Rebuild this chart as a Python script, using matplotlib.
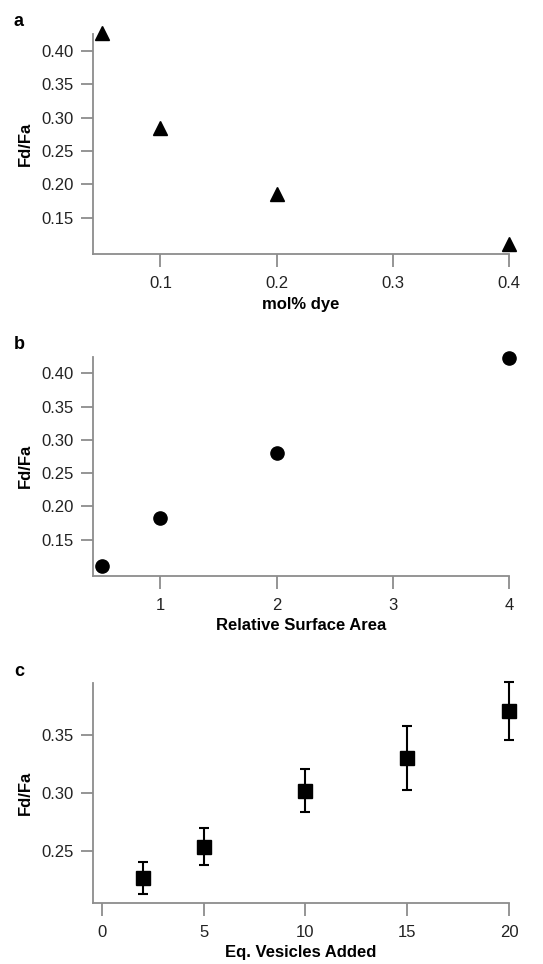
import matplotlib.pyplot as plt

plt.rcParams['font.family'] = ['Liberation Sans', 'DejaVu Sans']

# panel a
dye = [0.05, 0.1, 0.2, 0.4]
ratio_dye = [0.426, 0.284, 0.186, 0.111]

# panel b
area = [0.5, 1, 2, 4]
ratio_area = [0.110, 0.183, 0.281, 0.423]

# panel c
vesicles = [2, 5, 10, 15, 20]
ratio_ves = [0.227, 0.254, 0.302, 0.330, 0.370]
err_ves = [0.0135, 0.016, 0.0185, 0.0275, 0.025]

gray = '#8c8c8c'

fig = plt.figure(figsize=(5.43, 9.64), dpi=100)
left, width, height = 93 / 543, 416 / 543, 220 / 964
ax_a = fig.add_axes([left, 1 - 254 / 964, width, height])
ax_b = fig.add_axes([left, 1 - 575.7 / 964, width, 219 / 964])
ax_c = fig.add_axes([left, 1 - 902.7 / 964, width, 219.4 / 964])


def style(ax):
    for s in ['top', 'right']:
        ax.spines[s].set_visible(False)
    for s in ['left', 'bottom']:
        ax.spines[s].set_color(gray)
        ax.spines[s].set_linewidth(1.3)
    ax.tick_params(direction='out', length=9, width=1.3, color=gray,
                   labelsize=12, labelcolor='#222222')
    ax.tick_params(axis='x', pad=7)
    ax.tick_params(axis='y', pad=5)


ax_a.plot(dye, ratio_dye, ls='none', marker='^', ms=10, color='black', clip_on=False)
ax_a.set_xlim(0.042, 0.4)
ax_a.set_ylim(0.096, 0.425)
ax_a.set_xticks([0.1, 0.2, 0.3, 0.4])
ax_a.set_xticklabels(['0.1', '0.2', '0.3', '0.4'])
ax_a.set_yticks([0.15, 0.20, 0.25, 0.30, 0.35, 0.40])
ax_a.set_yticklabels(['0.15', '0.20', '0.25', '0.30', '0.35', '0.40'])
ax_a.set_xlabel('mol% dye', fontweight='bold', fontsize=12, labelpad=4)
ax_a.set_ylabel('Fd/Fa', fontweight='bold', fontsize=12, labelpad=6)
style(ax_a)

ax_b.plot(area, ratio_area, ls='none', marker='o', ms=9.5, color='black', clip_on=False)
ax_b.set_xlim(0.42, 4)
ax_b.set_ylim(0.096, 0.425)
ax_b.set_xticks([1, 2, 3, 4])
ax_b.set_yticks([0.15, 0.20, 0.25, 0.30, 0.35, 0.40])
ax_b.set_yticklabels(['0.15', '0.20', '0.25', '0.30', '0.35', '0.40'])
ax_b.set_xlabel('Relative Surface Area', fontweight='bold', fontsize=12, labelpad=4)
ax_b.set_ylabel('Fd/Fa', fontweight='bold', fontsize=12, labelpad=6)
style(ax_b)

ax_c.errorbar(vesicles, ratio_ves, yerr=err_ves, ls='none', marker='s', ms=10,
              color='black', ecolor='black', elinewidth=1.5, capsize=3.5,
              capthick=1.5, clip_on=False)
ax_c.set_xlim(-0.44, 20)
ax_c.set_ylim(0.206, 0.394)
ax_c.set_xticks([0, 5, 10, 15, 20])
ax_c.set_yticks([0.25, 0.30, 0.35])
ax_c.set_yticklabels(['0.25', '0.30', '0.35'])
ax_c.set_xlabel('Eq. Vesicles Added', fontweight='bold', fontsize=12, labelpad=4)
ax_c.set_ylabel('Fd/Fa', fontweight='bold', fontsize=12, labelpad=6)
style(ax_c)

for letter, y in [('a', 22), ('b', 344), ('c', 671)]:
    fig.text(14 / 543, 1 - y / 964, letter, fontweight='bold', fontsize=13,
             va='center', ha='left')

fig.savefig('out.png', dpi=100)
